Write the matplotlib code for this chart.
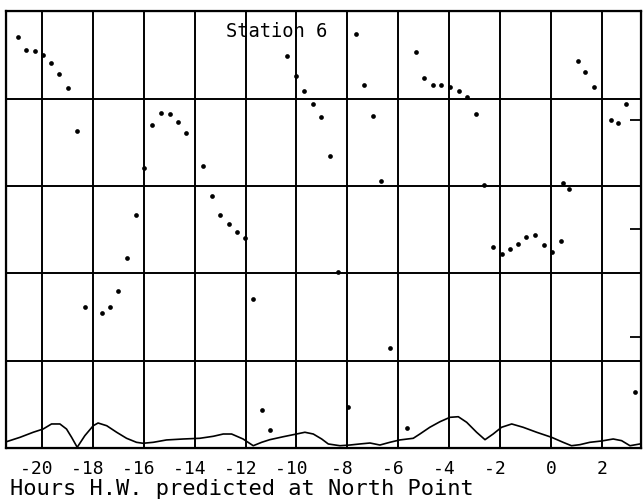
import matplotlib

matplotlib.use("Agg")
import matplotlib.pyplot as plt

# hours relative to H.W. at North Point, and plotted value (wrapped 0..5)
point_hours = [
    -20.95, -20.62, -20.28, -19.96, -19.65, -19.33, -18.97, -18.64,
    -18.32, -17.65, -17.32, -17.01, -16.68, -16.32, -15.99, -15.67,
    -15.34, -14.99, -14.65, -14.35, -13.66, -13.33, -13.00, -12.67,
    -12.33, -12.02, -11.70, -11.36, -11.03, -10.37, -10.01, -9.70,
    -9.37, -9.04, -8.70, -8.36, -7.99, -7.68, -7.34, -7.00,
    -6.68, -6.33, -5.65, -5.31, -4.99, -4.65, -4.31, -3.98,
    -3.63, -3.30, -2.96, -2.62, -2.29, -1.94, -1.61, -1.29,
    -0.96, -0.63, -0.28, 0.06, 0.38, 0.48, 0.71, 1.05,
    1.36, 1.69, 2.35, 2.64, 2.95, 3.30,
]
point_values = [
    4.71, 4.56, 4.55, 4.50, 4.41, 4.28, 4.12, 3.63,
    1.61, 1.55, 1.61, 1.80, 2.18, 2.67, 3.20, 3.70,
    3.84, 3.82, 3.73, 3.61, 3.23, 2.88, 2.67, 2.56,
    2.47, 2.40, 1.70, 0.43, 0.21, 4.49, 4.26, 4.09,
    3.94, 3.79, 3.34, 2.02, 0.47, 4.74, 4.15, 3.80,
    3.06, 1.14, 0.23, 4.53, 4.24, 4.16, 4.16, 4.13,
    4.09, 4.02, 3.82, 3.01, 2.30, 2.22, 2.28, 2.34,
    2.41, 2.44, 2.32, 2.24, 2.37, 3.03, 2.96, 4.43,
    4.31, 4.13, 3.76, 3.72, 3.94, 0.64,
]

# tide curve along the bottom
curve_hours = [
    -21.40, -20.87, -20.35, -19.96, -19.63, -19.30, -19.04, -18.84,
    -18.62, -18.32, -17.99, -17.80, -17.46, -17.07, -16.68, -16.29,
    -16.03, -15.63, -15.11, -14.45, -13.80, -13.27, -12.88, -12.55,
    -12.10, -11.70, -11.37, -11.05, -10.52, -10.00, -9.67, -9.34,
    -9.01, -8.75, -8.29, -7.90, -7.51, -7.11, -6.72, -6.33,
    -5.94, -5.41, -5.15, -4.76, -4.36, -3.97, -3.64, -3.31,
    -2.92, -2.59, -2.27, -1.94, -1.54, -1.09, -0.56, 0.03,
    0.48, 0.81, 1.14, 1.53, 1.99, 2.45, 2.78, 3.11, 3.50,
]
curve_values = [
    0.072, 0.122, 0.180, 0.217, 0.275, 0.275, 0.217, 0.122,
    0.008, 0.141, 0.255, 0.286, 0.255, 0.180, 0.111, 0.065,
    0.054, 0.065, 0.092, 0.103, 0.111, 0.134, 0.160, 0.160,
    0.103, 0.026, 0.065, 0.095, 0.129, 0.160, 0.180, 0.160,
    0.103, 0.046, 0.026, 0.034, 0.046, 0.057, 0.034, 0.065,
    0.092, 0.111, 0.160, 0.237, 0.301, 0.351, 0.358, 0.294,
    0.180, 0.095, 0.160, 0.237, 0.275, 0.237, 0.180, 0.122,
    0.065, 0.026, 0.038, 0.065, 0.080, 0.103, 0.084, 0.026, 0.046,
]

x_ticks = [-20, -18, -16, -14, -12, -10, -8, -6, -4, -2, 0, 2]
y_grid = [1, 2, 3, 4]
right_ticks = [1.27, 2.51, 3.75]

title = "Station 6"
xlabel = "Hours H.W. predicted at North Point"

FONT = "DejaVu Sans Mono"


def tick_label(t):
    # digits sit centred on the grid line, the minus hangs out to the left
    return f"{t} " if t < 0 else str(t)


fig = plt.figure(figsize=(6.43, 5.02), dpi=100, facecolor="white")
ax = fig.add_axes([0.0093, 0.1056, 0.9871, 0.87])

ax.set_xlim(-21.42, 3.53)
ax.set_ylim(0, 5)

# grid
for t in x_ticks:
    ax.axvline(t, color="black", lw=1.4, zorder=1)
for t in y_grid:
    ax.axhline(t, color="black", lw=1.4, zorder=1)

ax.plot(curve_hours, curve_values, color="black", lw=1.2, zorder=2)
ax.plot(point_hours, point_values, "o", color="black", ms=3.4, mec="none", zorder=3)

ax.set_xticks(x_ticks, [tick_label(t) for t in x_ticks], fontfamily=FONT, fontsize=13)
ax.set_yticks([])
ax.tick_params(axis="x", length=0, pad=8)
for s in ax.spines.values():
    s.set_linewidth(1.6)

ax2 = ax.twinx()
ax2.set_ylim(0, 5)
ax2.set_yticks(right_ticks)
ax2.tick_params(axis="y", direction="in", length=8, width=1.3, labelright=False)

ax.text(0.426, 0.955, title, transform=ax.transAxes, ha="center", va="center",
        fontfamily=FONT, fontsize=13.5)
fig.text(0.016, 0.014, xlabel, ha="left", va="baseline", fontfamily=FONT, fontsize=15.8)

fig.savefig("out.png", dpi=100, facecolor="white")
